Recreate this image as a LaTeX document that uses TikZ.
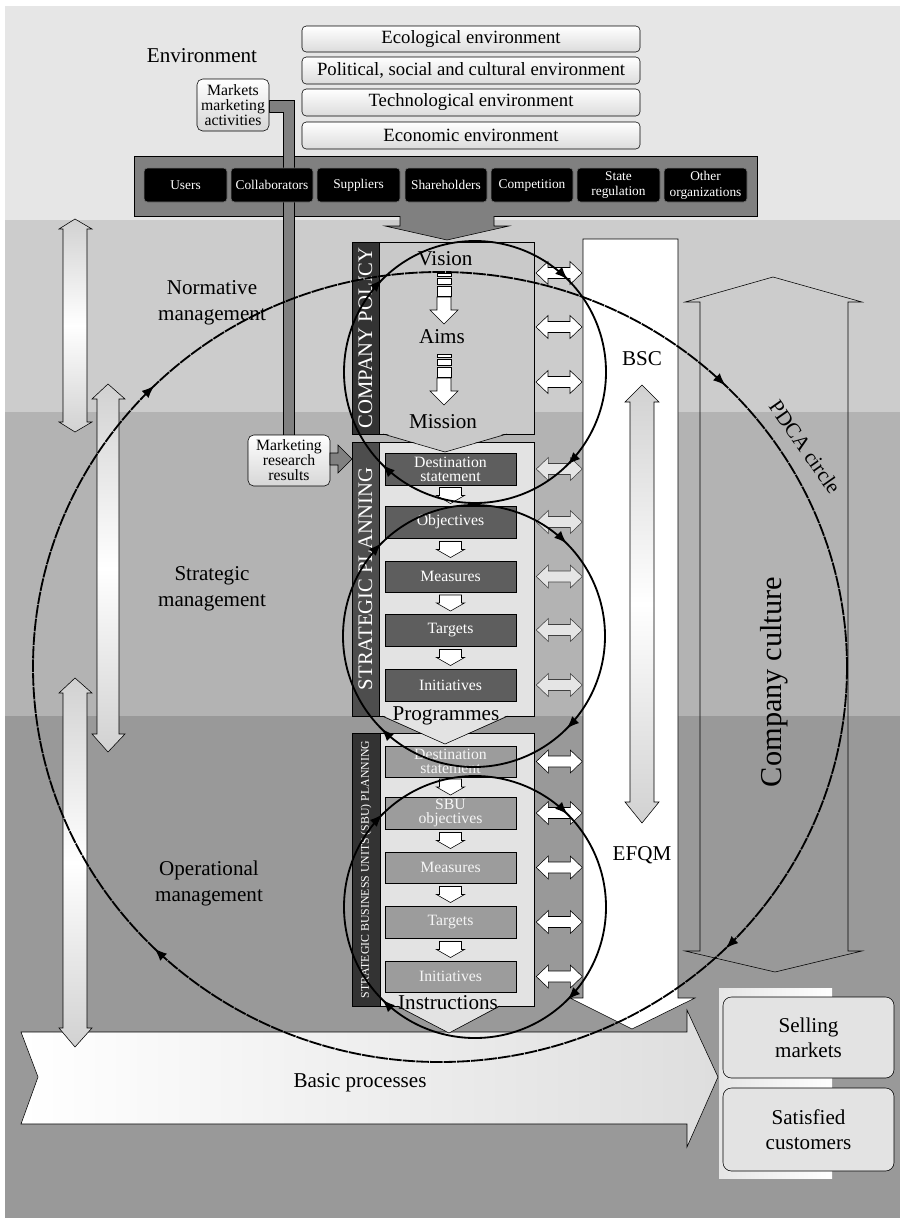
\documentclass[tikz,border=0pt]{standalone}
\usepackage{fontspec}
\setmainfont{Liberation Serif}
\usetikzlibrary{arrows.meta,calc,decorations.markings}
\definecolor{envband}{HTML}{E6E6E6}
\definecolor{normband}{HTML}{CCCCCC}
\definecolor{stratband}{HTML}{B3B3B3}
\definecolor{operband}{HTML}{999999}
\definecolor{panelgray}{HTML}{808080}
\definecolor{polfill}{HTML}{C9C9C9}
\definecolor{blockfill}{HTML}{E3E3E3}
\definecolor{stripdark}{HTML}{333333}
\definecolor{stripmid}{HTML}{4D4D4D}
\definecolor{spgray}{HTML}{5E5E5E}
\definecolor{sbugray}{HTML}{9C9C9C}

\begin{document}
\begin{tikzpicture}[x=0.025cm,y=-0.025cm,>=Latex]
  \tikzset{sz/.style 2 args={minimum width=#1*0.025cm,minimum height=#2*0.025cm}}
  \tikzstyle{envbox}=[draw,rounded corners=3pt,top color=white,bottom color=black!14,inner sep=0pt,font=\fontsize{13.3}{15}\selectfont]
  \tikzstyle{stake}=[draw=black!55,fill=black,rounded corners=2.5pt,inner sep=0pt,text=white,align=center,font=\fontsize{9.5}{11.2}\selectfont]
  \tikzstyle{infobox}=[draw,rounded corners=4pt,top color=white,bottom color=black!16,inner sep=0pt,align=center,font=\fontsize{11.2}{10.6}\selectfont]
  \tikzstyle{lbl}=[align=center,font=\fontsize{15}{18.5}\selectfont]
  \tikzstyle{block}=[draw,inner sep=0pt]
  \tikzstyle{striptxt}=[text=white,rotate=90,font=\fontsize{14.7}{16}\selectfont]
  \tikzstyle{spbox}=[draw,fill=spgray,text=white,inner sep=0pt,align=center,font=\fontsize{11.2}{10}\selectfont]
  \tikzstyle{sbubox}=[spbox,fill=sbugray,text=black!4]
  \tikzstyle{endbox}=[draw,fill=blockfill,rounded corners=6pt,inner sep=0pt,align=center,font=\fontsize{15}{18}\selectfont]
  \tikzstyle{vdbl}=[draw,top color=black!18,bottom color=black!18,middle color=white]
  \tikzstyle{cyc}=[line width=1.3pt,postaction={decorate},decoration={markings,mark=between positions 0.125 and 1 step 0.25 with {\arrow{Latex[length=9pt,width=7pt]}}}]
  \tikzset{
    hdbl/.pic={\path[draw,pic actions] (-23,0) -- (-11,-11.5) -- (-11,-5.5) -- (11,-5.5) -- (11,-11.5) -- (23,0) -- (11,11.5) -- (11,5.5) -- (-11,5.5) -- (-11,11.5) -- cycle;},
    smalldown/.pic={\path[draw,fill=white] (-11,-8) -- (11,-8) -- (11,0) -- (14,0) -- (0,8) -- (-14,0) -- (-11,0) -- cycle;},
    stackdown/.pic={\path[draw,fill=white] (-7,0) rectangle (7,3) (-7,5) rectangle (7,11) (-7,13) rectangle (7,23);
      \path[draw,fill=white] (-7,24) -- (7,24) -- (7,37) -- (14,37) -- (0,51) -- (-14,37) -- (-7,37) -- cycle;}
  }

  \useasboundingbox (0,0) rectangle (900,1218);
  % bands
  \fill[white] (0,0) rectangle (900,1218);
  \fill[envband] (5,6) rectangle (900,220);
  \fill[normband] (5,220) rectangle (900,412);
  \fill[stratband] (5,412) rectangle (900,716);
  \fill[operband] (5,716) rectangle (900,1218);

  % environment
  \node[lbl] (env) at (202,56) {Environment};
  \node[envbox,sz={338}{26}] (eco) at (471,39) {Ecological environment};
  \node[envbox,sz={338}{27}] (soc) at (471,70.5) {Political, social and cultural environment};
  \node[envbox,sz={338}{27}] (tech) at (471,102.5) {Technological environment};
  \node[envbox,sz={338}{27}] (econ) at (471,135.5) {Economic environment};

  \node[block,fill=panelgray,sz={623}{60}] (panel) at (445.5,186) {};
  \fill[panelgray] (400,214) -- (400,226) -- (385,226) -- (447,240) -- (509,226) -- (494,226) -- (494,214) -- cycle;
  \draw (400,216) -- (400,226) -- (385,226) -- (447,240) -- (509,226) -- (494,226) -- (494,216);
  \filldraw[fill=panelgray] (269,100) -- (294,100) -- (294,435) -- (283,435) -- (283,112) -- (269,112) -- cycle;
  \node[stake,sz={83}{34}] (users) at (185.5,185) {Users};
  \node[stake,sz={82}{34}] (collab) at (272,185) {Collaborators};
  \node[stake,sz={83}{34}] (suppl) at (358.5,185) {Suppliers};
  \node[stake,sz={82}{34}] (share) at (446,185) {Shareholders};
  \node[stake,sz={82}{34}] (compet) at (532,185) {Competition};
  \node[stake,sz={83}{34}] (state) at (618.5,185) {State\\regulation};
  \node[stake,sz={83}{34}] (other) at (705.5,185) {Other\\organizations};
  \node[infobox,sz={72}{52}] (mkt) at (233,105) {Markets\\marketing\\activities};

  % management levels
  \path[vdbl] (75,219) -- (92,229) -- (87,229) -- (87,422) -- (92,422) -- (75,432) -- (59,422) -- (63,422) -- (63,229) -- (59,229) -- cycle;
  \path[vdbl] (108,384) -- (125,399) -- (119,399) -- (119,734) -- (125,734) -- (108,752) -- (92,734) -- (97,734) -- (97,399) -- (92,399) -- cycle;
  \node[lbl] (norm) at (212,303) {Normative\\management};
  \node[lbl] (strat) at (212,589) {Strategic\\management};
  \node[lbl] (oper) at (209,883) {Operational\\management};

  % company culture
  \draw (773,277) -- (862,302) -- (848,302) -- (848,951) -- (862,951) -- (775,972) -- (685,951) -- (700,951) -- (700,302) -- (685,302) -- cycle;
  \node[rotate=90,font=\fontsize{21.6}{24}\selectfont] (culture) at (774,682) {Company culture};

  % BSC / EFQM
  \filldraw[fill=white] (583,239) -- (678,239) -- (678,998) -- (695,998) -- (632,1029) -- (570,998) -- (583,998) -- cycle;
  \path[vdbl] (642,385) -- (659,402) -- (654,402) -- (654,802) -- (659,802) -- (642,823) -- (625,802) -- (630,802) -- (630,402) -- (625,402) -- cycle;
  \node[lbl] (bsc) at (642,359) {BSC};
  \node[lbl] (efqm) at (642,855) {EFQM};

  % company policy
  \node[block,fill=polfill,sz={155}{192}] (policy) at (456.5,338) {};
  \node[block,fill=stripdark,sz={27}{192}] (polstrip) at (365.5,338) {};
  \node[striptxt] at (polstrip) {COMPANY POLICY};
  \node[lbl] (vision) at (445,259) {Vision};
  \node[lbl] (aims) at (442,337) {Aims};
  \node[lbl] (mission) at (443,422) {Mission};
  \pic at (444,273) {stackdown};
  \pic at (444,354) {stackdown};
  \pic[fill=white] at (559,273) {hdbl};
  \pic[fill=white] at (559,327) {hdbl};
  \pic[fill=white] at (559,382) {hdbl};

  % strategic planning
  \node[block,fill=blockfill,sz={155}{274}] (splan) at (456.5,579) {};
  \node[block,fill=stripmid,sz={27}{274}] (spstrip) at (365.5,579) {};
  \node[striptxt] at (spstrip) {STRATEGIC PLANNING};
  \fill[polfill] (383,433) -- (445,452) -- (507,433) -- cycle;
  \draw (383,434) -- (445,452) -- (507,434);
  \node[spbox,sz={131}{32}] (sp1) at (450.5,469) {Destination\\statement};
  \node[spbox,sz={131}{32}] (sp2) at (450.5,522) {Objectives};
  \node[spbox,sz={131}{31}] (sp3) at (450.5,576.5) {Measures};
  \node[spbox,sz={131}{32}] (sp4) at (450.5,630) {Targets};
  \node[spbox,sz={131}{32}] (sp5) at (450.5,685) {Initiatives};
  \pic at ($(sp1.south)!0.5!(sp2.north)$) {smalldown};
  \pic at ($(sp2.south)!0.5!(sp3.north)$) {smalldown};
  \pic at ($(sp3.south)!0.5!(sp4.north)$) {smalldown};
  \pic at ($(sp4.south)!0.5!(sp5.north)$) {smalldown};
  \pic[fill=black!10,draw=black!75] at ($(sp1.east)+(43,0)$) {hdbl};
  \pic[fill=black!10,draw=black!75] at ($(sp2.east)+(43,0)$) {hdbl};
  \pic[fill=black!10,draw=black!75] at ($(sp3.east)+(43,0)$) {hdbl};
  \pic[fill=black!10,draw=black!75] at ($(sp4.east)+(43,0)$) {hdbl};
  \pic[fill=black!10,draw=black!75] at ($(sp5.east)+(43,0)$) {hdbl};

  % marketing research
  \node[infobox,sz={82}{51}] (mrr) at (289,460.5) {Marketing\\research\\results};
  \filldraw[fill=panelgray] (330,453) -- (338,453) -- (338,445) -- (352,459) -- (338,473) -- (338,465) -- (330,465) -- cycle;

  % SBU planning
  \node[block,fill=blockfill,sz={154}{273}] (sbu) at (457,869.5) {};
  \node[block,fill=stripdark,sz={28}{273}] (sbustrip) at (366,869.5) {};
  \node[striptxt,font=\fontsize{8.4}{9}\selectfont] at (sbustrip) {STRATEGIC BUSINESS UNITS (SBU) PLANNING};
  \fill[blockfill] (382,715) -- (445,744) -- (508,715) -- cycle;
  \draw (382,716) -- (445,744) -- (508,716);
  \node[lbl] (progr) at (446,716) {Programmes};
  \node[sbubox,sz={131}{31}] (sb1) at (450.5,761.5) {Destination\\statement};
  \node[sbubox,sz={131}{32}] (sb2) at (450.5,813) {SBU\\objectives};
  \node[sbubox,sz={131}{31}] (sb3) at (450.5,867.5) {Measures};
  \node[sbubox,sz={131}{32}] (sb4) at (450.5,922) {Targets};
  \node[sbubox,sz={131}{31}] (sb5) at (450.5,976.5) {Initiatives};
  \pic at ($(sb1.south)!0.5!(sb2.north)$) {smalldown};
  \pic at ($(sb2.south)!0.5!(sb3.north)$) {smalldown};
  \pic at ($(sb3.south)!0.5!(sb4.north)$) {smalldown};
  \pic at ($(sb4.south)!0.5!(sb5.north)$) {smalldown};
  \pic[fill=white] at ($(sb1.east)+(43,0)$) {hdbl};
  \pic[fill=white] at ($(sb2.east)+(43,0)$) {hdbl};
  \pic[fill=white] at ($(sb3.east)+(43,0)$) {hdbl};
  \pic[fill=white] at ($(sb4.east)+(43,0)$) {hdbl};
  \pic[fill=white] at ($(sb5.east)+(43,0)$) {hdbl};

  % basic processes
  \path[draw,left color=white,right color=black!13] (21,1032) -- (687,1032) -- (687,1010) -- (718,1077) -- (687,1147) -- (687,1124) -- (21,1124) -- (38,1077) -- cycle;
  \node[lbl] (basic) at (360,1083) {Basic processes};
  \fill[blockfill] (397,1005) -- (449,1033) -- (500,1005) -- cycle;
  \draw (397,1006) -- (449,1033) -- (500,1006);
  \node[lbl] (instr) at (448,1003) {Instructions};
  \shade[left color=black!10,right color=white] (719,988) rectangle (832,1178);
  \node[endbox,sz={171}{81}] (sell) at (808.5,1037.5) {Selling\\markets};
  \node[endbox,sz={171}{83}] (satis) at (808.5,1129.5) {Satisfied\\customers};
  \path[vdbl] (75,678) -- (92,693) -- (87,693) -- (87,1028) -- (92,1028) -- (75,1047) -- (59,1028) -- (63,1028) -- (63,693) -- (59,693) -- cycle;

  % PDCA cycles
  \draw[cyc] (475,372) circle [radius=131];
  \draw[cyc] (474,636) circle [radius=131];
  \draw[cyc] (475,907) circle [radius=131];
  \draw[cyc,dash pattern=on 9pt off 0.7pt] (440,667) ellipse [x radius=407,y radius=395];
  \node[rotate=-55,font=\fontsize{15}{17}\selectfont] (pdca) at (805,447) {PDCA circle};
\end{tikzpicture}
\end{document}
